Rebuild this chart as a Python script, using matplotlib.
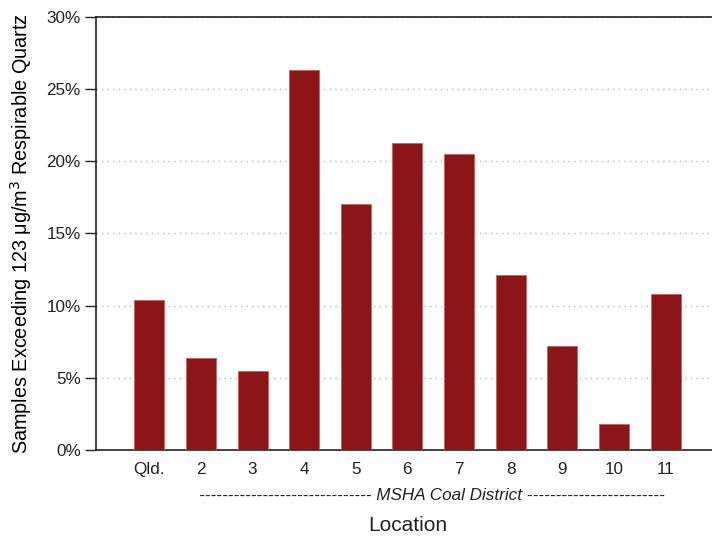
import matplotlib
matplotlib.use("Agg")
import matplotlib.pyplot as plt
from matplotlib.ticker import PercentFormatter

plt.rcParams["font.family"] = ["Liberation Sans", "DejaVu Sans"]

locations = ["Qld.", "2", "3", "4", "5", "6", "7", "8", "9", "10", "11"]
exceed_pct = [10.4, 6.4, 5.5, 26.3, 17.05, 21.25, 20.5, 12.1, 7.2, 1.8, 10.8]

fig = plt.figure(figsize=(7.12, 5.4), dpi=100)
ax = fig.add_axes([0.135, 0.1667, 0.865, 0.8018])

x = range(len(locations))
ax.bar(x, exceed_pct, width=0.58, color="#8b1519", edgecolor="#c9615a",
       linewidth=0.6, zorder=3)

ax.set_xlim(-1.03, 10.9)
ax.set_ylim(0, 30)
ax.set_yticks([0, 5, 10, 15, 20, 25, 30])
ax.yaxis.set_major_formatter(PercentFormatter(decimals=0))
ax.set_xticks(list(x))
ax.set_xticklabels(locations)
ax.tick_params(axis="y", labelsize=12.3, length=8, width=1, pad=3, colors="#222222")
ax.tick_params(axis="x", labelsize=12.3, length=0, pad=9, colors="#222222")

ax.grid(axis="y", linestyle=(0, (1, 3)), color="#a9bccb", linewidth=1, zorder=0)
for s in ["left", "top", "bottom"]:
    ax.spines[s].set_color("#222222")
    ax.spines[s].set_linewidth(1.2)
ax.spines["right"].set_visible(False)

ax.set_ylabel("Samples Exceeding 123 \u03bcg/m$^3$ Respirable Quartz",
              fontsize=14.3, va="center")
ax.yaxis.set_label_coords(-0.122, 0.5)

ax.annotate("------------------------------ MSHA Coal District ------------------------",
            xy=(5.47, 0), xycoords=("data", "axes fraction"),
            xytext=(0, -32.5), textcoords="offset points",
            ha="center", va="center", fontsize=12.3, style="italic", color="#222222")
ax.annotate("Location", xy=(5.0, 0), xycoords=("data", "axes fraction"),
            xytext=(0, -54.5), textcoords="offset points",
            ha="center", va="center", fontsize=15, color="#222222")

fig.savefig("out.png", dpi=100)
